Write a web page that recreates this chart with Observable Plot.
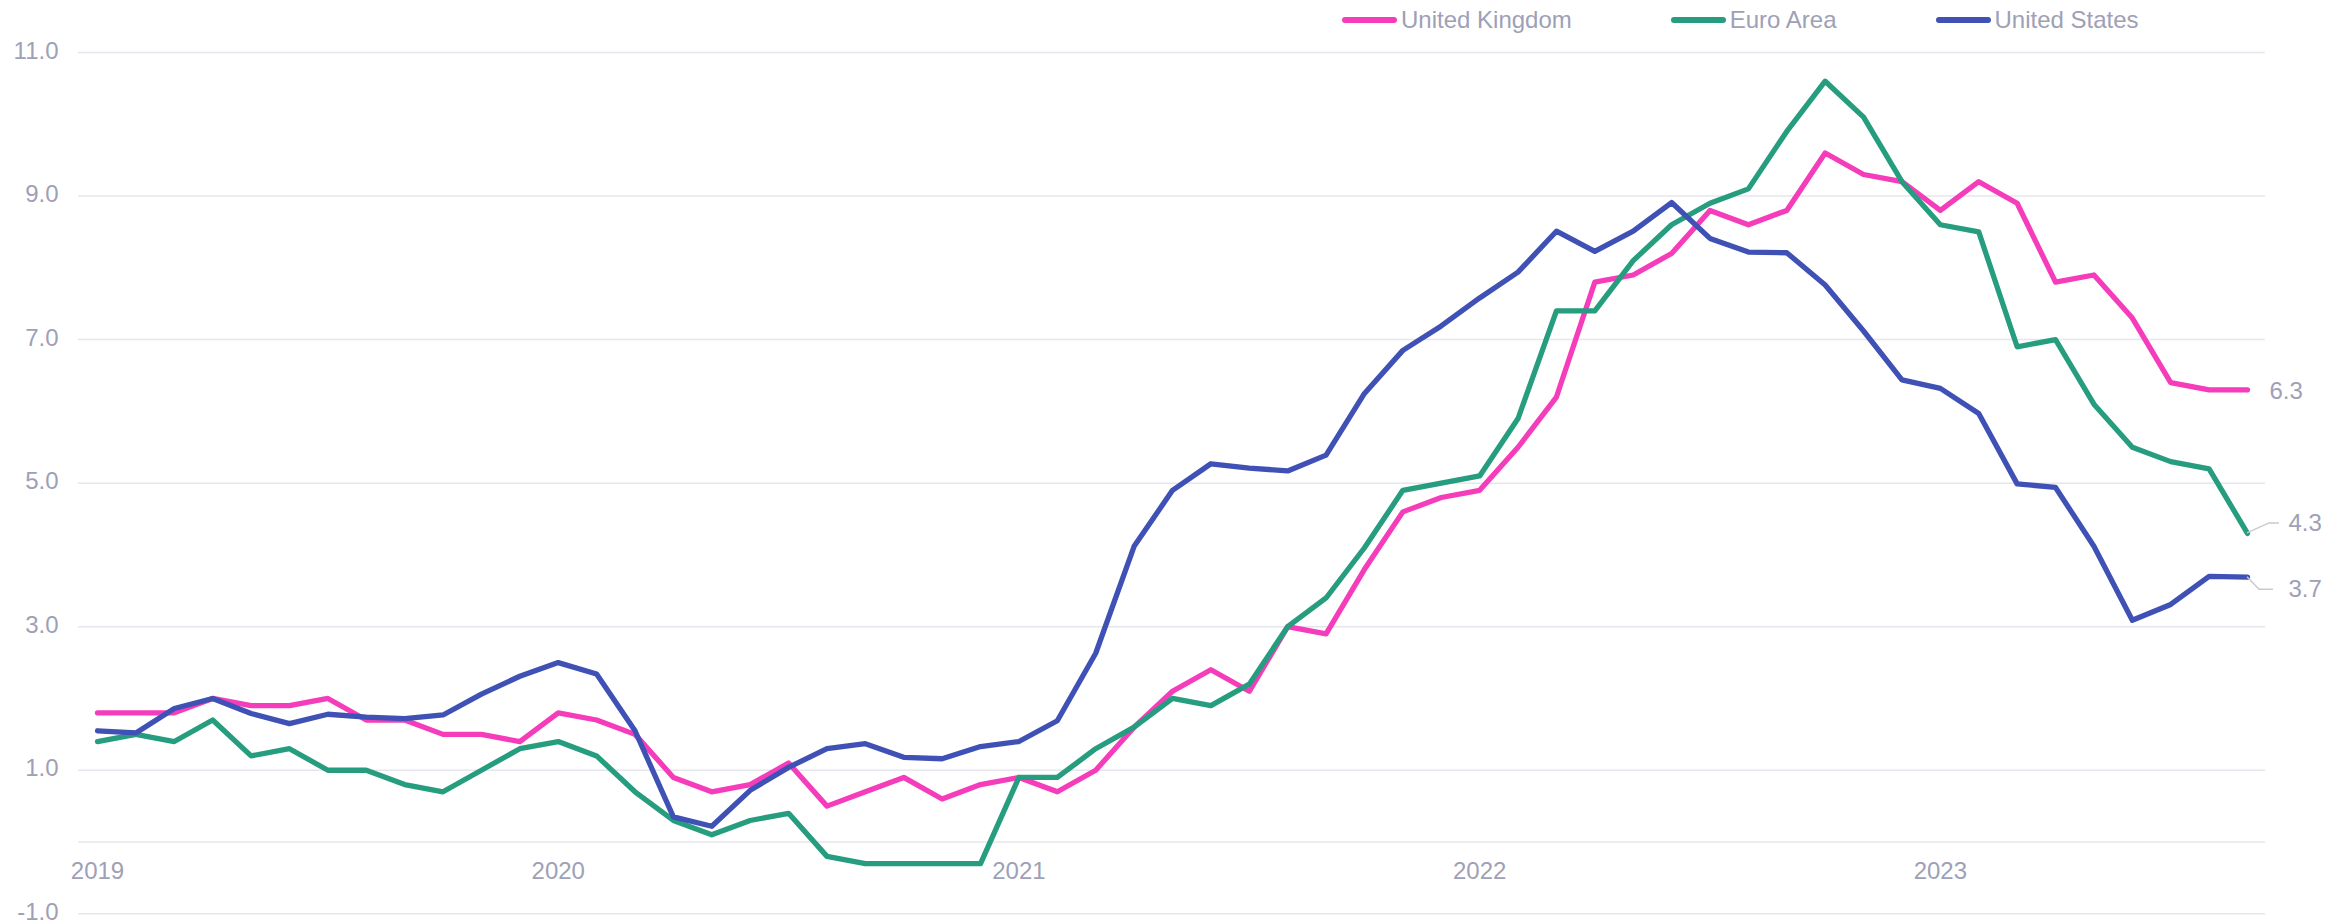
<!DOCTYPE html>
<html>
<head>
<meta charset="utf-8">
<script src="https://cdn.jsdelivr.net/npm/d3@7"></script>
<script src="https://cdn.jsdelivr.net/npm/@observablehq/plot@0.6"></script>
<style>
  html, body { margin: 0; padding: 0; background: #ffffff; }
  #wrap { width: 2340px; height: 924px; position: relative; overflow: hidden; font-family: "Liberation Sans", Arial, sans-serif; }
  #legend { position: relative; width: 2340px; height: 40px; }
  #legend .items { position: absolute; left: 1342px; top: 0; height: 40px; display: flex; align-items: center; gap: 99px; }
  #legend .item { display: flex; align-items: center; font-size: 24px; color: #9ea0b6; white-space: nowrap; }
  #legend .sw { display: inline-block; width: 55px; height: 6px; border-radius: 3px; margin-right: 4px; }
</style>
</head>
<body>
<div id="wrap">
  <div id="legend"><div class="items"></div></div>
  <div id="chart"></div>
</div>
<script>
// ---- data ----
const seriesNames = ["United Kingdom", "Euro Area", "United States"];
const seriesColors = ["#f53dbb", "#279d7f", "#3f51b5"];

// monthly, Jan 2019 .. Sep 2023
const monthLabels = d3.utcMonth.range(new Date(Date.UTC(2019, 0, 1)), new Date(Date.UTC(2023, 9, 1)))
  .map(d => d3.utcFormat("%Y-%m")(d));

const ukValues = [
  1.8, 1.8, 1.8, 2.0, 1.9, 1.9, 2.0, 1.7, 1.7, 1.5, 1.5, 1.4,
  1.8, 1.7, 1.5, 0.9, 0.7, 0.8, 1.1, 0.5, 0.7, 0.9, 0.6, 0.8,
  0.9, 0.7, 1.0, 1.6, 2.1, 2.4, 2.1, 3.0, 2.9, 3.8, 4.6, 4.8,
  4.9, 5.5, 6.2, 7.8, 7.9, 8.2, 8.8, 8.6, 8.8, 9.6, 9.3, 9.2,
  8.8, 9.2, 8.9, 7.8, 7.9, 7.3, 6.4, 6.3, 6.3
];
const euroValues = [
  1.4, 1.5, 1.4, 1.7, 1.2, 1.3, 1.0, 1.0, 0.8, 0.7, 1.0, 1.3,
  1.4, 1.2, 0.7, 0.3, 0.1, 0.3, 0.4, -0.2, -0.3, -0.3, -0.3, -0.3,
  0.9, 0.9, 1.3, 1.6, 2.0, 1.9, 2.2, 3.0, 3.4, 4.1, 4.9, 5.0,
  5.1, 5.9, 7.4, 7.4, 8.1, 8.6, 8.9, 9.1, 9.9, 10.6, 10.1, 9.2,
  8.6, 8.5, 6.9, 7.0, 6.1, 5.5, 5.3, 5.2, 4.3
];
const usValues = [
  1.55, 1.52, 1.86, 2.00, 1.79, 1.65, 1.78, 1.74, 1.72, 1.77, 2.06, 2.31,
  2.50, 2.34, 1.55, 0.35, 0.22, 0.72, 1.04, 1.30, 1.37, 1.18, 1.16, 1.33,
  1.40, 1.69, 2.63, 4.12, 4.90, 5.27, 5.21, 5.17, 5.39, 6.25, 6.85, 7.19,
  7.58, 7.94, 8.51, 8.23, 8.51, 8.91, 8.41, 8.22, 8.21, 7.76, 7.12, 6.44,
  6.32, 5.97, 4.99, 4.94, 4.12, 3.09, 3.31, 3.70, 3.69
];

const yTickValues = [-1, 1, 3, 5, 7, 9, 11];
const yGridValues = [-1, 0, 1, 3, 5, 7, 9, 11];
const yearTickLabels = ["2019", "2020", "2021", "2022", "2023"];

// end-of-line labels (value labels with optional leader lines)
const endLabels = [
  {series: "United Kingdom", value: 6.3, dx: 22, dy: 1, leader: null},
  {series: "Euro Area", value: 4.3, dx: 41, dy: -10, leader: [[22, -10], [32, -10]]},
  {series: "United States", value: 3.7, dx: 41, dy: 12.5, leader: [[12, 12.5], [26, 12.5]]}
];

// ---- build table ----
const allValues = [ukValues, euroValues, usValues];
const rows = [];
seriesNames.forEach((name, s) => {
  allValues[s].forEach((v, i) => rows.push({series: name, i, month: monthLabels[i], v}));
});
const lastIdx = monthLabels.length - 1;
const yearTickIdx = monthLabels.map((m, i) => m.endsWith("-01") ? i : null).filter(d => d !== null);
const textColor = "#9ea0b6";

// ---- legend ----
const items = d3.select("#legend .items");
seriesNames.forEach((name, s) => {
  const it = items.append("div").attr("class", "item");
  it.append("span").attr("class", "sw").style("background", seriesColors[s]);
  it.append("span").text(name);
});

// ---- leader line mark (uses Plot's scales) ----
function leaderMark(index, scales) {
  const g = d3.create("svg:g").attr("fill", "none").attr("stroke", "#c9cad4").attr("stroke-width", 1.5);
  for (const L of endLabels) {
    if (!L.leader) continue;
    const last = rows.find(r => r.series === L.series && r.i === lastIdx);
    const x0 = scales.x(last.i), y0 = scales.y(last.v);
    const pts = [[x0, y0], ...L.leader.map(([a, b]) => [x0 + a, y0 + b])];
    g.append("path").attr("d", d3.line()(pts));
  }
  return g.node();
}

const chart = Plot.plot({
  width: 2340,
  height: 884,
  marginLeft: 78,
  marginRight: 75,
  marginTop: 12,
  marginBottom: 10.7,
  style: {fontFamily: '"Liberation Sans", Arial, sans-serif', fontSize: "24px", color: textColor, background: "#ffffff", overflow: "visible"},
  x: {type: "linear", domain: [-0.495, lastIdx + 0.469], label: null},
  y: {domain: [-1, 11], label: null},
  color: {domain: seriesNames, range: seriesColors},
  marks: [
    Plot.gridY(yGridValues, {stroke: "#e6e6ee", strokeOpacity: 1, strokeWidth: 1.5}),
    Plot.axisY({ticks: yTickValues, tickSize: 0, tickPadding: 20, tickFormat: d => d.toFixed(1), fill: textColor, label: null, dy: -1.5}),
    Plot.axisX({ticks: yearTickIdx, anchor: "bottom", tickSize: 0, tickPadding: -52.3, label: null,
      tickFormat: i => yearTickLabels[yearTickIdx.indexOf(i)], fill: textColor}),
    Plot.line(rows, {x: "i", y: "v", z: "series", stroke: "series", strokeWidth: 5.3,
      strokeLinejoin: "round", strokeLinecap: "round"}),
    leaderMark,
    ...endLabels.map(L => Plot.text([L], {
      x: () => lastIdx, y: "value", text: d => d.value.toFixed(1),
      dx: L.dx, dy: L.dy, textAnchor: "start", fill: textColor, fontSize: 24
    }))
  ]
});
document.getElementById("chart").appendChild(chart);
</script>
</body>
</html>
